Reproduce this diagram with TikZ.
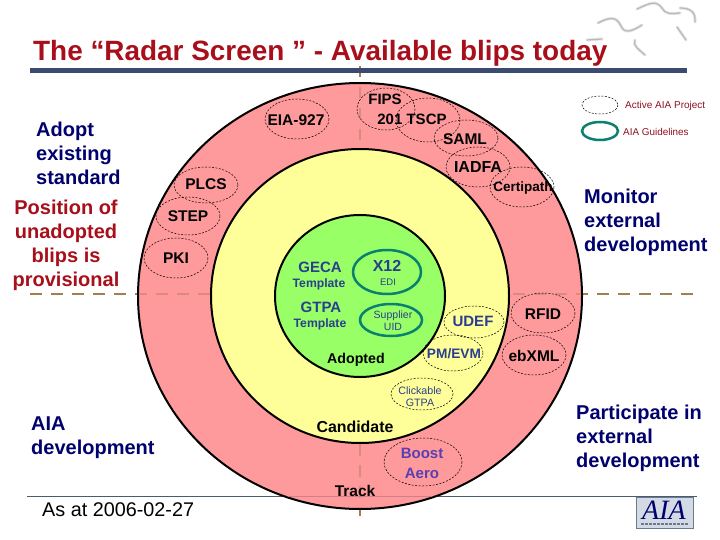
\documentclass[tikz,border=0pt]{standalone}
\usepackage{fontspec}
\setmainfont{Liberation Sans}
\newfontfamily\serifx{Liberation Serif}
\definecolor{ringred}{HTML}{FF9A9C}
\definecolor{ringyel}{HTML}{FFFF99}
\definecolor{ringgrn}{HTML}{99FF66}
\definecolor{titlered}{HTML}{A80F1A}
\definecolor{navy}{HTML}{00006E}
\definecolor{bluetxt}{HTML}{2A3F8F}
\definecolor{barblue}{HTML}{3A4A70}
\definecolor{brownd}{HTML}{A08050}
\definecolor{pinkd}{HTML}{DB8A80}
\definecolor{tealx}{HTML}{0A8070}
\definecolor{legred}{HTML}{901020}
\definecolor{purp}{HTML}{5A3FB0}
\definecolor{footl}{HTML}{4A5A70}
\definecolor{footp}{HTML}{D08088}
\definecolor{logobg}{HTML}{D4DAE4}
\definecolor{logoed}{HTML}{6A7A90}
\newcommand{\fsz}[1]{\fontsize{#1}{#1}\selectfont}
\tikzset{
 x=1pt,y=-1pt,
 blip/.style={draw=black,dash pattern=on 2pt off 1.5pt,line width=.5pt},
 ring/.style={draw=black,line width=2pt},
 lab/.style={font=\bfseries\fsz{15.5},inner sep=0pt,align=center},
 big/.style={font=\bfseries\fontsize{20}{24}\selectfont,inner sep=0pt,align=left},
 axis/.style={line width=2.5pt,dash pattern=on 11.5pt off 9.5pt},
 puz/.style={draw=black!10,line width=3pt,line cap=round,postaction={draw=black!28,line width=1.2pt}},
}
\newcommand{\elp}[5]{\draw[#1] (#2,#3) ellipse [x radius=#4,y radius=#5];}
\begin{document}
\begin{tikzpicture}
\useasboundingbox (0,0) rectangle (720,540);
\fill[white] (0,0) rectangle (720,540);
% puzzle watermark
\draw[puz] (598,23) .. controls (615,14) and (618,20) .. (622,28) .. controls (626,34) and (634,30) .. (642,25);
\draw[puz] (637,9) .. controls (650,3) and (656,0) .. (662,8) .. controls (665,14) and (670,14) .. (680,13);
\draw[puz] (680,8) .. controls (690,8) and (696,12) .. (695,22);
\draw[puz] (677,27) -- (686,40);
\draw[puz] (635,40) .. controls (632,46) and (640,50) .. (645,55);
\draw[puz] (587,40) -- (602,39);
% axes and footer rule under the rings
\draw[axis,brownd] (30,294) -- (695,294);
\draw[axis,brownd] (360,66) -- (360,516);
\draw[footl,line width=.8pt] (27,496.5) -- (697,496.5);
% rings
\elp{ring,fill=ringred}{360}{296}{222}{213}
\begin{scope}
\clip (360,296) ellipse [x radius=221,y radius=212];
\draw[axis,pinkd] (30,294) -- (695,294);
\draw[axis,pinkd] (360,66) -- (360,516);
\draw[footp,line width=.8pt] (27,496.5) -- (697,496.5);
\end{scope}
\elp{ring,fill=ringyel}{360}{296}{149}{147}
\elp{ring,fill=ringgrn}{360}{296}{85}{81}
% title
\node[anchor=west,inner sep=0pt,text=titlered,font=\bfseries\fsz{27.9}] (title) at (33,53) {The “Radar Screen ” - Available blips today};
\fill[barblue] (30,68.5) rectangle (687,73.5);
% blips
\elp{blip}{297}{119}{32}{20}
\elp{blip}{386}{109}{29}{21}
\elp{blip}{428}{120}{32}{22}
\elp{blip}{466}{138}{32}{18}
\elp{blip}{478}{167}{32}{20}
\elp{blip}{522}{187}{32}{20}
\elp{blip}{206}{185}{32}{18}
\elp{blip}{188}{216}{32}{19}
\elp{blip}{176}{258}{32}{20}
\elp{blip}{474}{322}{30}{16}
\elp{blip}{453}{353}{30}{18}
\elp{blip}{422}{394}{31}{16}
\elp{blip}{543}{313}{32}{20}
\elp{blip}{534}{355}{32}{20}
\elp{blip}{423}{462}{39}{24}
\elp{blip}{600}{105}{18}{9}
\elp{draw=tealx,line width=2.5pt}{600}{131}{18}{9}
\elp{draw=tealx,line width=2.5pt}{387}{272}{34}{22}
\elp{draw=tealx,line width=2.5pt}{391}{320}{31}{16}
% left and right text
\node[big,text=navy,anchor=north west] (adopt) at (36,122) {Adopt\\existing\\standard};
\node[big,text=titlered,align=center,anchor=north] (pos) at (66,199.5) {Position of\\unadopted\\blips is\\provisional};
\node[big,text=navy,anchor=north west] (mon) at (584,189) {Monitor\\external\\development};
\node[big,text=navy,anchor=north west] (part) at (576,405) {Participate in\\external\\development};
\node[big,text=navy,anchor=north west] (aiadev) at (31,417) {AIA\\development};
\node[inner sep=0pt,font=\fsz{19.8},anchor=west] (asat) at (42,510) {As at 2006-02-27};
% blip labels
\node[lab] (eia) at (296,120) {EIA-927};
\node[lab,font=\bfseries\fsz{15}] (fips) at (385,99) {FIPS};
\node[lab,font=\bfseries\fsz{15}] (tscp) at (412,119) {201 TSCP};
\node[lab] (saml) at (465,139) {SAML};
\node[lab,font=\bfseries\fsz{16}] (iadfa) at (478,167) {IADFA};
\node[lab,font=\bfseries\fsz{13.5}] (cert) at (523,188) {Certipath};
\node[lab] (plcs) at (206,184) {PLCS};
\node[lab] (stepn) at (188,216) {STEP};
\node[lab] (pki) at (176,258) {PKI};
\node[lab,text=bluetxt,font=\bfseries\fsz{15}] (geca) at (320,267) {GECA};
\node[lab,text=bluetxt,font=\bfseries\fsz{12.2}] (t1) at (319,284) {Template};
\node[lab,text=bluetxt,font=\bfseries\fsz{15}] (gtpa) at (321,307) {GTPA};
\node[lab,text=bluetxt,font=\bfseries\fsz{12.2}] (t2) at (320,324) {Template};
\node[lab,text=bluetxt,font=\bfseries\fsz{16}] (x12) at (387,266) {X12};
\node[lab,text=bluetxt,font=\fsz{9.5}] (edi) at (388,282) {EDI};
\node[lab,text=bluetxt,font=\fontsize{10.5}{12}\selectfont] (sup) at (393,321) {Supplier\\UID};
\node[lab,text=bluetxt,font=\bfseries\fsz{15}] (udef) at (473,321) {UDEF};
\node[lab,text=bluetxt,font=\bfseries\fsz{13.7}] (pm) at (454,354) {PM/EVM};
\node[lab,font=\bfseries\fsz{14.2}] (adopted) at (356,360) {Adopted};
\node[lab,font=\bfseries\fsz{15.9}] (cand) at (355,427) {Candidate};
\node[lab] (track) at (355,491) {Track};
\node[lab,text=bluetxt,font=\fontsize{10.7}{12}\selectfont] (click) at (420,397) {Clickable\\GTPA};
\node[lab,text=purp,font=\bfseries\fontsize{15}{20}\selectfont] (boost) at (422,463) {Boost\\Aero};
\node[lab] (rfid) at (543,314) {RFID};
\node[lab] (ebxml) at (534,356) {ebXML};
\node[inner sep=0pt,text=legred,font=\fsz{10},anchor=west] (leg1) at (625,105.5) {Active AIA Project};
\node[inner sep=0pt,text=legred,font=\fsz{9.9},anchor=west] (leg2) at (623,131.5) {AIA Guidelines};
% logo
\draw[logoed,fill=logobg,line width=1pt] (636,497.5) rectangle (693,528.5);
\node[inner sep=0pt,text=navy,font=\serifx\itshape\fontsize{28}{28}\selectfont] (logo) at (664,510) {AIA};
\draw[logoed,line width=1.5pt,dash pattern=on 3pt off 1pt] (641,524) -- (688,524);
\end{tikzpicture}
\end{document}
